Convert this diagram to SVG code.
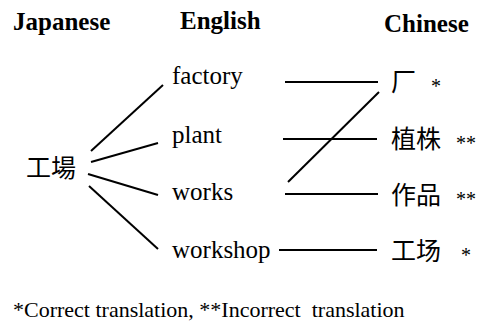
<svg xmlns="http://www.w3.org/2000/svg" width="485" height="323" viewBox="0 0 485 323">
<style>
.hd{font-family:'Liberation Serif',serif;font-weight:bold;font-size:25px;fill:#000}
.en{font-family:'Liberation Serif',serif;font-size:25px;fill:#000}
.cjk{font-family:'Noto Sans CJK SC',sans-serif;font-size:25px;fill:#000}
.jp{font-family:'Noto Sans CJK JP',sans-serif;font-size:25px;fill:#000}
.st{font-family:'Liberation Serif',serif;font-size:20px;fill:#000}
.fn{font-family:'Liberation Serif',serif;font-size:22px;fill:#000}
.ln{stroke:#000;stroke-width:2;fill:none}
</style>
<rect width="485" height="323" fill="#fff"/>
<g id="headers">
<text class="hd" x="13" y="30">Japanese</text>
<text class="hd" x="180" y="29">English</text>
<text class="hd" x="384" y="32">Chinese</text>
</g>
<g id="jp-kojo"><text class="jp" x="26" y="177">工場</text></g>
<g id="en-factory"><text class="en" x="172" y="84">factory</text></g>
<g id="en-plant"><text class="en" x="172" y="143">plant</text></g>
<g id="en-works"><text class="en" x="172" y="200">works</text></g>
<g id="en-workshop"><text class="en" x="172" y="258">workshop</text></g>
<g id="zh-chang"><text class="cjk" x="391" y="91">厂</text><text class="st" x="431" y="93">*</text></g>
<g id="zh-zhizhu"><text class="cjk" x="391" y="148">植株</text><text class="st" x="456" y="150">**</text></g>
<g id="zh-zuopin"><text class="cjk" x="391" y="204">作品</text><text class="st" x="456" y="206">**</text></g>
<g id="zh-gongchang"><text class="cjk" x="391" y="260">工场</text><text class="st" x="461" y="262">*</text></g>
<g id="connectors">
<line class="ln" x1="91" y1="151" x2="163" y2="85"/>
<line class="ln" x1="91" y1="162" x2="158" y2="143"/>
<line class="ln" x1="88" y1="174" x2="158" y2="195"/>
<line class="ln" x1="89" y1="186" x2="158" y2="249"/>
<line class="ln" x1="285" y1="82" x2="378" y2="82"/>
<line class="ln" x1="283" y1="139" x2="377" y2="139"/>
<line class="ln" x1="285" y1="194" x2="378" y2="194"/>
<line class="ln" x1="279" y1="250" x2="377" y2="250"/>
<line class="ln" x1="288" y1="182" x2="379" y2="92"/>
</g>
<g id="footnote"><text class="fn" x="13" y="317" xml:space="preserve">*Correct translation, **Incorrect  translation</text></g>
</svg>
